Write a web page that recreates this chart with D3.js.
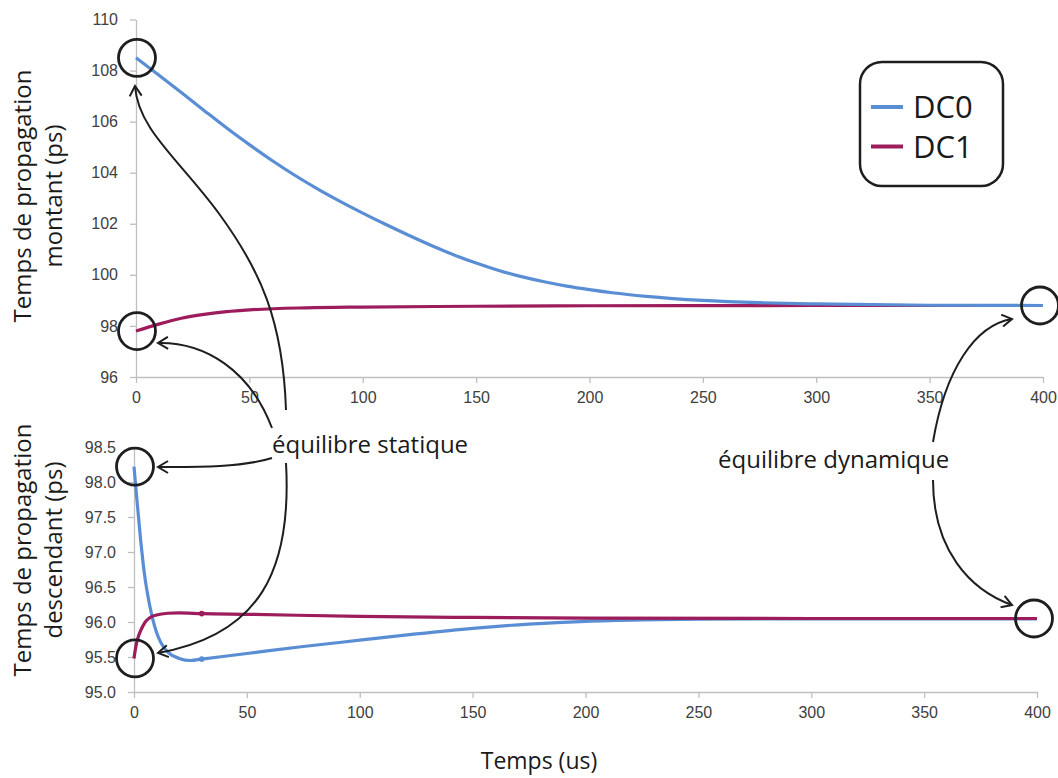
<!DOCTYPE html>
<html>
<head>
<meta charset="utf-8">
<script src="https://d3js.org/d3.v7.min.js"></script>
<style>
  body { margin: 0; background: #fff; }
  svg { font-family: "Open Sans", "Noto Sans", sans-serif; }
  .tick text { fill: #404040; font-size: 16px; }
  .tick line, .domain { stroke: #bfbfbf; stroke-width: 1.3; }
</style>
</head>
<body>
<script>
// --- data ---
var timeTopDC0 = [0,10,20,30,40,50,60,70,80,90,100,110,120,130,140,150,160,170,180,190,200,210,225,250,275,300,350,400];
var topDC0 = [108.5,107.83,107.14,106.44,105.75,105.1,104.48,103.9,103.37,102.88,102.42,101.98,101.56,101.16,100.79,100.46,100.17,99.93,99.73,99.56,99.42,99.3,99.16,99.0,98.91,98.86,98.81,98.8];
var timeTopDC1 = [0,10,20,30,40,50,75,100,150,200,300,400];
var topDC1 = [97.8,98.07,98.3,98.45,98.56,98.63,98.71,98.74,98.77,98.79,98.8,98.8];

var timeBotDC0 = [0,1,2,3,4,5,6,8,10,12,15,20,25,30,50,75,100,125,150,175,200,225,250,300,400];
var botDC0 = [98.22,97.85,97.5,97.15,96.85,96.6,96.4,96.08,95.85,95.7,95.57,95.48,95.45,95.47,95.55,95.65,95.74,95.83,95.91,95.97,96.01,96.03,96.04,96.045,96.045];
var timeBotDC1 = [0,1,2,3,5,7,10,15,20,30,50,100,150,200,300,400];
var botDC1 = [95.48,95.68,95.8,95.88,96.0,96.06,96.1,96.125,96.13,96.12,96.11,96.08,96.065,96.055,96.05,96.05];

var markerTime = 30;
var xTicks = [0,50,100,150,200,250,300,350,400];
var topTicks = [96,98,100,102,104,106,108,110];
var botTicks = [95.0,95.5,96.0,96.5,97.0,97.5,98.0,98.5];
var seriesNames = ["DC0", "DC1"];
var colors = {DC0: "#5a8ed4", DC1: "#9c1c5c"};

var width = 1058, height = 778;
var svg = d3.select("body").append("svg")
    .attr("width", width)
    .attr("height", height);

function zip(ts, vs) {
    return ts.map(function (t, i) { return {t: t, v: vs[i]}; });
}

// two stacked panels
var panels = [
    {x0: 136, x1: 1043, y0: 377, y1: 19.5, domain: [96, 110], ticks: topTicks, fmt: d3.format("d"),
     series: {DC0: zip(timeTopDC0, topDC0), DC1: zip(timeTopDC1, topDC1)}, dots: false,
     title: ["Temps de propagation", "montant (ps)"], titleY: 196},
    {x0: 134, x1: 1037, y0: 692, y1: 447, domain: [95, 98.5], ticks: botTicks, fmt: d3.format(".1f"),
     series: {DC0: zip(timeBotDC0, botDC0), DC1: zip(timeBotDC1, botDC1)}, dots: true,
     title: ["Temps de propagation", "descendant (ps)"], titleY: 550}
];

panels.forEach(function (p) {
    p.x = d3.scaleLinear().domain([0, 400]).range([p.x0, p.x1]);
    p.y = d3.scaleLinear().domain(p.domain).range([p.y0, p.y1]);

    svg.append("g")
        .attr("transform", "translate(0," + p.y0 + ")")
        .call(d3.axisBottom(p.x).tickValues(xTicks).tickSize(6).tickSizeOuter(0).tickPadding(9));

    svg.append("g")
        .attr("transform", "translate(" + p.x0 + ",0)")
        .call(d3.axisLeft(p.y).tickValues(p.ticks).tickFormat(p.fmt).tickSize(6).tickSizeOuter(0).tickPadding(12));

    var line = d3.line()
        .x(function (d) { return p.x(d.t); })
        .y(function (d) { return p.y(d.v); })
        .curve(d3.curveMonotoneX);

    // DC0 under DC1 in the lower panel, over it in the upper one (as in the picture)
    var order = p.dots ? ["DC0", "DC1"] : ["DC1", "DC0"];
    order.forEach(function (name) {
        svg.append("path")
            .datum(p.series[name])
            .attr("fill", "none")
            .attr("stroke", colors[name])
            .attr("stroke-width", 3.2)
            .attr("d", line);
        if (p.dots) {
            var pts = p.series[name].filter(function (d) { return d.t === markerTime; });
            svg.selectAll(null).data(pts).enter().append("circle")
                .attr("cx", function (d) { return p.x(d.t); })
                .attr("cy", function (d) { return p.y(d.v); })
                .attr("r", 2.8)
                .attr("fill", colors[name]);
        }
    });

    // y axis title, two lines
    svg.append("text")
        .attr("transform", "translate(31," + p.titleY + ") rotate(-90)")
        .attr("text-anchor", "middle")
        .attr("font-size", 24)
        .attr("fill", "#1a1a1a")
        .selectAll("tspan").data(p.title).enter().append("tspan")
        .attr("x", 0)
        .attr("dy", function (d, i) { return i ? 31 : 0; })
        .text(function (d) { return d; });
});

svg.append("text")
    .attr("x", 539).attr("y", 769)
    .attr("text-anchor", "middle")
    .attr("font-size", 23)
    .attr("fill", "#1a1a1a")
    .text("Temps (us)");

// --- legend ---
var legend = svg.append("g");
legend.append("rect")
    .attr("x", 860).attr("y", 62).attr("width", 143).attr("height", 124)
    .attr("rx", 22).attr("ry", 22)
    .attr("fill", "#fff").attr("stroke", "#1e1e1e").attr("stroke-width", 2.5);
seriesNames.forEach(function (name, i) {
    var yy = 107 + i * 39.5;
    legend.append("line")
        .attr("x1", 871).attr("x2", 903).attr("y1", yy).attr("y2", yy)
        .attr("stroke", colors[name]).attr("stroke-width", 4);
    legend.append("text")
        .attr("x", 913).attr("y", yy + 11)
        .attr("font-size", 31)
        .attr("fill", "#1a1a1a")
        .text(name);
});

// --- annotations: circles on the equilibrium points ---
var pTop = panels[0], pBot = panels[1];
var rings = [
    [pTop, 0, topDC0[0]], [pTop, 0, topDC1[0]], [pTop, 400, topDC0[topDC0.length - 1]],
    [pBot, 0, botDC0[0]], [pBot, 0, botDC1[0]], [pBot, 400, botDC1[botDC1.length - 1]]
];
svg.selectAll(".ring").data(rings).enter().append("circle")
    .attr("class", "ring")
    .attr("cx", function (d) { return d[0].x(d[1]) + (d[1] === 0 ? 1 : -3); })
    .attr("cy", function (d) { return d[0].y(d[2]); })
    .attr("r", 18.5)
    .attr("fill", "none")
    .attr("stroke", "#1e1e1e")
    .attr("stroke-width", 2.8);

svg.append("defs").append("marker")
    .attr("id", "head")
    .attr("markerUnits", "userSpaceOnUse")
    .attr("viewBox", "0 0 14 14")
    .attr("refX", 12).attr("refY", 7)
    .attr("markerWidth", 14).attr("markerHeight", 14)
    .attr("orient", "auto")
    .append("path")
    .attr("d", "M2,1 L12,7 L2,13")
    .attr("fill", "none")
    .attr("stroke", "#1e1e1e")
    .attr("stroke-width", 2);

var arrows = [
    "M286,410 C283,320 260,270 220,215 C180,160 138,130 135,86",
    "M272,428 C250,370 205,342 158,343",
    "M272,458 C240,468 190,467 158,467",
    "M286,463 C292,570 260,635 158,653",
    "M933,442 C945,370 975,325 1012,319",
    "M933,480 C933,550 970,590 1012,605"
];
svg.selectAll(".arrow").data(arrows).enter().append("path")
    .attr("class", "arrow")
    .attr("d", function (d) { return d; })
    .attr("fill", "none")
    .attr("stroke", "#1e1e1e")
    .attr("stroke-width", 2)
    .attr("marker-end", "url(#head)");

svg.append("text")
    .attr("x", 272).attr("y", 453)
    .attr("font-size", 24).attr("fill", "#1a1a1a")
    .text("équilibre statique");
svg.append("text")
    .attr("x", 718).attr("y", 468)
    .attr("font-size", 24).attr("fill", "#1a1a1a")
    .text("équilibre dynamique");
</script>
</body>
</html>
